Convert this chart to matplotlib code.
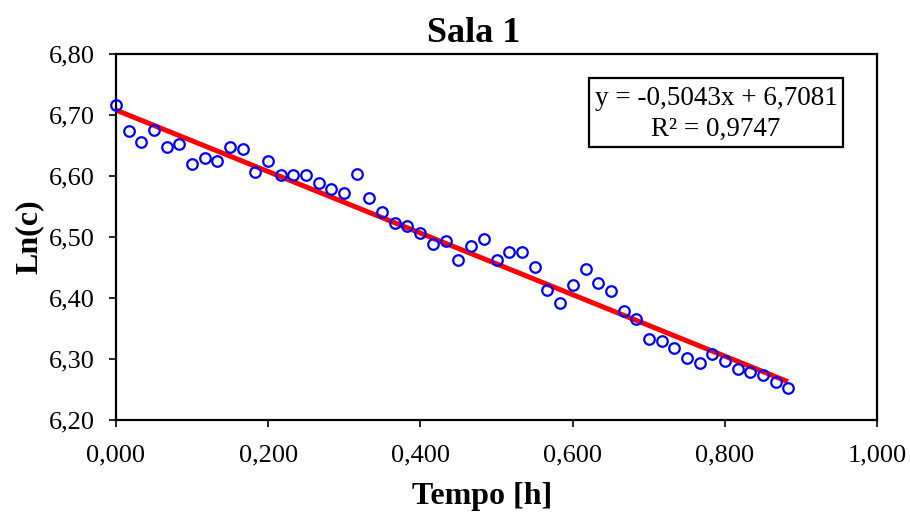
import matplotlib
matplotlib.use("Agg")
import matplotlib.pyplot as plt
from matplotlib.ticker import FuncFormatter, MultipleLocator
from matplotlib.patches import Rectangle

plt.rcParams['font.family'] = ['Liberation Serif', 'DejaVu Serif']

tempo = [0.000, 0.017, 0.033, 0.050, 0.067, 0.083, 0.100, 0.117, 0.133, 0.150,
         0.167, 0.183, 0.200, 0.217, 0.233, 0.250, 0.267, 0.283, 0.300, 0.317,
         0.333, 0.350, 0.367, 0.383, 0.400, 0.417, 0.433, 0.450, 0.467, 0.483,
         0.500, 0.517, 0.533, 0.550, 0.567, 0.583, 0.600, 0.617, 0.633, 0.650,
         0.667, 0.683, 0.700, 0.717, 0.733, 0.750, 0.767, 0.783, 0.800, 0.817,
         0.833, 0.850, 0.867, 0.883]
ln_c = [6.717, 6.673, 6.656, 6.675, 6.647, 6.653, 6.619, 6.629, 6.624, 6.647,
        6.644, 6.607, 6.624, 6.602, 6.601, 6.601, 6.589, 6.578, 6.572, 6.603,
        6.564, 6.541, 6.523, 6.518, 6.506, 6.488, 6.494, 6.463, 6.485, 6.497,
        6.463, 6.475, 6.475, 6.450, 6.413, 6.392, 6.421, 6.447, 6.424, 6.412,
        6.379, 6.365, 6.333, 6.330, 6.318, 6.301, 6.294, 6.308, 6.297, 6.283,
        6.279, 6.274, 6.263, 6.252]
slope = -0.5043
intercept = 6.7081
r2 = 0.9747

fig = plt.figure(figsize=(9.10, 5.13), dpi=100)
ax = fig.add_axes([116/910, 1 - 420/513, 761/910, 366/513])

x_fit = [tempo[0], tempo[-1]]
y_fit = [slope * v + intercept for v in x_fit]
ax.plot(x_fit, y_fit, color='#ff0000', lw=3.6, solid_capstyle='butt', zorder=2)
ax.plot(tempo, ln_c, linestyle='none', marker='o', markersize=7.6,
        markerfacecolor='none', markeredgecolor='#0000ff', markeredgewidth=1.6, zorder=3,
        clip_on=False)

ax.set_xlim(0, 1.0)
ax.set_ylim(6.20, 6.80)
ax.xaxis.set_major_locator(MultipleLocator(0.2))
ax.yaxis.set_major_locator(MultipleLocator(0.1))
ax.xaxis.set_major_formatter(FuncFormatter(lambda v, p: f"{v:.3f}".replace('.', ',')))
ax.yaxis.set_major_formatter(FuncFormatter(lambda v, p: f"{v:.2f}".replace('.', ',')))
ax.tick_params(direction='out', length=5, width=1.2, labelsize=19, colors='black')
ax.tick_params(axis='x', pad=12.5)
ax.tick_params(axis='y', pad=10.5)
for s in ax.spines.values():
    s.set_linewidth(1.6)
    s.set_color('black')

fig.text(473.5 / 910, 1 - 42 / 513, 'Sala 1', fontsize=26, fontweight='bold',
         ha='center', va='baseline')
ax.set_xlabel('Tempo [h]', fontsize=23, fontweight='bold')
ax.xaxis.set_label_coords((482 - 116) / 761, -0.170)
ax.set_ylabel('Ln(c)', fontsize=23, fontweight='bold')
ax.yaxis.set_label_coords((44 - 116) / 761, 0.5)

# equation box
bx0, bx1 = (589 - 116) / 761, (843 - 116) / 761
by0, by1 = (420 - 147) / 366, (420 - 78) / 366
ax.add_patch(Rectangle((bx0, by0), bx1 - bx0, by1 - by0, transform=ax.transAxes,
                       facecolor='white', edgecolor='black', linewidth=1.6, zorder=4))
eq = f"y = {slope:.4f}x + {intercept:.4f}".replace('.', ',')
r2_txt = f"R² = {r2:.4f}".replace('.', ',')
ax.text((bx0 + bx1) / 2, (by0 + by1) / 2 - 0.005, eq + "\n" + r2_txt, transform=ax.transAxes,
        ha='center', va='center', fontsize=19.5, linespacing=1.3, zorder=5)

fig.savefig('out.png', dpi=100)
